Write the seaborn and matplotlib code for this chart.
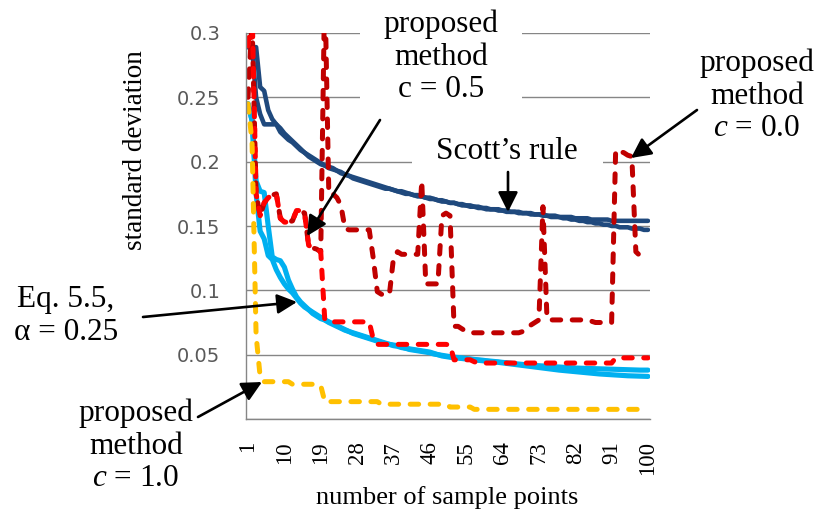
import matplotlib
matplotlib.use("Agg")
import matplotlib.pyplot as plt
from matplotlib.patches import Rectangle, FancyArrowPatch
import numpy as np
import pandas as pd
import seaborn as sns

# ---------------------------------------------------------------- data
n_points = list(range(1, 101))
x_tick_values = [1, 10, 19, 28, 37, 46, 55, 64, 73, 82, 91, 100]
y_tick_values = [0.0, 0.05, 0.10, 0.15, 0.20, 0.25, 0.30]
y_tick_labels = ["", "0.05", "0.1", "0.15", "0.2", "0.25", "0.3"]

scott_a = [
    0.289, 0.289, 0.289, 0.258, 0.255, 0.240, 0.233, 0.229, 0.226, 0.222,
    0.219, 0.216, 0.213, 0.210, 0.207, 0.205, 0.203, 0.201, 0.199, 0.197,
    0.196, 0.195, 0.193, 0.192, 0.190, 0.189, 0.188, 0.187, 0.186, 0.185,
    0.184, 0.183, 0.182, 0.181, 0.180, 0.179, 0.178, 0.177, 0.177, 0.176,
    0.175, 0.174, 0.174, 0.173, 0.172, 0.172, 0.171, 0.170, 0.170, 0.169,
    0.168, 0.168, 0.167, 0.167, 0.166, 0.166, 0.165, 0.165, 0.164, 0.164,
    0.163, 0.163, 0.163, 0.162, 0.162, 0.161, 0.161, 0.161, 0.160, 0.160,
    0.160, 0.159, 0.159, 0.159, 0.158, 0.158, 0.158, 0.157, 0.157, 0.157,
    0.157, 0.156, 0.156, 0.156, 0.156, 0.155, 0.155, 0.155, 0.155, 0.155,
    0.154, 0.154, 0.154, 0.154, 0.154, 0.154, 0.154, 0.154, 0.154, 0.154,
]
scott_b = [
    0.289, 0.289, 0.250, 0.237, 0.229, 0.229, 0.229, 0.229, 0.223, 0.220,
    0.217, 0.215, 0.212, 0.209, 0.207, 0.204, 0.202, 0.200, 0.198, 0.197,
    0.195, 0.194, 0.193, 0.191, 0.190, 0.189, 0.187, 0.186, 0.185, 0.184,
    0.183, 0.182, 0.181, 0.180, 0.179, 0.179, 0.178, 0.177, 0.176, 0.175,
    0.175, 0.174, 0.173, 0.173, 0.172, 0.171, 0.171, 0.170, 0.169, 0.169,
    0.168, 0.168, 0.167, 0.166, 0.166, 0.165, 0.165, 0.164, 0.164, 0.163,
    0.163, 0.163, 0.162, 0.162, 0.161, 0.161, 0.161, 0.160, 0.160, 0.160,
    0.159, 0.159, 0.159, 0.158, 0.158, 0.157, 0.157, 0.157, 0.156, 0.156,
    0.155, 0.155, 0.154, 0.154, 0.153, 0.153, 0.152, 0.152, 0.151, 0.151,
    0.150, 0.150, 0.149, 0.149, 0.149, 0.148, 0.148, 0.148, 0.147, 0.147,
]
eq55_a = [
    0.245, 0.232, 0.185, 0.177, 0.176, 0.150, 0.126, 0.124, 0.123, 0.118,
    0.108, 0.101, 0.095, 0.091, 0.088, 0.085, 0.083, 0.081, 0.079, 0.077,
    0.0755, 0.074, 0.0725, 0.071, 0.0695, 0.068, 0.067, 0.066, 0.065, 0.064,
    0.063, 0.062, 0.061, 0.060, 0.059, 0.058, 0.0575, 0.057, 0.056, 0.055,
    0.0545, 0.054, 0.0535, 0.053, 0.0525, 0.052, 0.051, 0.050, 0.0495, 0.049,
    0.0485, 0.048, 0.0478, 0.0475, 0.047, 0.0467, 0.0463, 0.046, 0.0457, 0.0453,
    0.045, 0.0447, 0.0444, 0.044, 0.0437, 0.0434, 0.043, 0.0427, 0.0424, 0.042,
    0.0418, 0.0416, 0.0414, 0.0412, 0.041, 0.0408, 0.0406, 0.0404, 0.0402, 0.040,
    0.0398, 0.0396, 0.0395, 0.0394, 0.0393, 0.0392, 0.0391, 0.039, 0.0389, 0.0388,
    0.0387, 0.0386, 0.0385, 0.0384, 0.0383, 0.0382, 0.0381, 0.038, 0.038, 0.038,
]
eq55_b = [
    0.245, 0.232, 0.175, 0.146, 0.140, 0.127, 0.124, 0.116, 0.110, 0.105,
    0.101, 0.098, 0.094, 0.090, 0.087, 0.085, 0.082, 0.080, 0.078, 0.077,
    0.075, 0.0735, 0.072, 0.0705, 0.069, 0.068, 0.0665, 0.0655, 0.0645, 0.0635,
    0.0625, 0.0615, 0.0605, 0.0595, 0.0585, 0.058, 0.057, 0.0565, 0.0555, 0.055,
    0.054, 0.0535, 0.053, 0.0525, 0.052, 0.0515, 0.0505, 0.050, 0.049, 0.0485,
    0.048, 0.0477, 0.0473, 0.047, 0.0466, 0.0463, 0.046, 0.0456, 0.0453, 0.045,
    0.0446, 0.0443, 0.044, 0.0436, 0.0432, 0.0428, 0.0424, 0.042, 0.0416, 0.0412,
    0.0408, 0.0404, 0.040, 0.0396, 0.0392, 0.0388, 0.0384, 0.038, 0.0377, 0.0374,
    0.0371, 0.0368, 0.0365, 0.0362, 0.0359, 0.0356, 0.0353, 0.035, 0.0348, 0.0346,
    0.0344, 0.0342, 0.034, 0.0338, 0.0336, 0.0335, 0.0334, 0.0333, 0.0332, 0.0331,
]
proposed_c00 = [
    0.250, 0.310, 0.175, 0.158, 0.168, 0.172, 0.174, 0.175, 0.156, 0.153,
    0.153, 0.154, 0.162, 0.162, 0.160, 0.135, 0.133, 0.132, 0.130, 0.340,
    0.175, 0.175, 0.172, 0.166, 0.148, 0.147, 0.147, 0.147, 0.147, 0.147,
    0.147, 0.125, 0.099, 0.097, 0.096, 0.097, 0.125, 0.130, 0.128, 0.128,
    0.128, 0.128, 0.128, 0.185, 0.105, 0.105, 0.105, 0.105, 0.158, 0.160,
    0.158, 0.072, 0.072, 0.070, 0.068, 0.067, 0.067, 0.067, 0.067, 0.067,
    0.067, 0.067, 0.067, 0.067, 0.067, 0.067, 0.067, 0.067, 0.068, 0.070,
    0.073, 0.075, 0.077, 0.165, 0.078, 0.077, 0.077, 0.077, 0.077, 0.077,
    0.077, 0.077, 0.077, 0.077, 0.077, 0.076, 0.075, 0.075, 0.075, 0.075,
    0.075, 0.209, 0.208, 0.207, 0.205, 0.204, 0.130, 0.127, 0.127, 0.128,
]
proposed_c05 = [
    0.290, 0.320, 0.175, 0.158, 0.168, 0.172, 0.174, 0.175, 0.156, 0.153,
    0.153, 0.154, 0.162, 0.162, 0.160, 0.135, 0.133, 0.132, 0.130, 0.077,
    0.0755, 0.0755, 0.0755, 0.0755, 0.0755, 0.0755, 0.0755, 0.0755, 0.0755, 0.0755,
    0.0755, 0.062, 0.058, 0.058, 0.058, 0.058, 0.058, 0.058, 0.058, 0.058,
    0.058, 0.058, 0.058, 0.058, 0.058, 0.058, 0.058, 0.058, 0.058, 0.058,
    0.0575, 0.046, 0.046, 0.046, 0.046, 0.046, 0.0445, 0.0435, 0.0435, 0.0435,
    0.0435, 0.0435, 0.0435, 0.0435, 0.0435, 0.0435, 0.0435, 0.0435, 0.0435, 0.0435,
    0.0435, 0.0435, 0.0435, 0.0435, 0.0435, 0.0435, 0.0435, 0.0435, 0.0435, 0.0435,
    0.0435, 0.0435, 0.0435, 0.0435, 0.0435, 0.0435, 0.0435, 0.0435, 0.0435, 0.0435,
    0.0435, 0.0475, 0.0475, 0.0475, 0.0475, 0.0475, 0.0475, 0.0475, 0.0475, 0.0475,
]
proposed_c10 = [
    0.245, 0.215, 0.065, 0.033, 0.029, 0.029, 0.029, 0.029, 0.029, 0.029,
    0.029, 0.027, 0.027, 0.027, 0.027, 0.027, 0.027, 0.027, 0.026, 0.0135,
    0.0135, 0.0135, 0.0135, 0.0135, 0.0135, 0.0135, 0.0135, 0.0135, 0.0135, 0.0135,
    0.0135, 0.0135, 0.0135, 0.0115, 0.0115, 0.0115, 0.0115, 0.0115, 0.0115, 0.0115,
    0.0115, 0.0115, 0.0115, 0.0115, 0.0115, 0.0115, 0.0115, 0.0115, 0.0115, 0.0115,
    0.0093, 0.0093, 0.0093, 0.0093, 0.0093, 0.0093, 0.0075, 0.0075, 0.0075, 0.0075,
    0.0075, 0.0075, 0.0075, 0.0075, 0.0075, 0.0075, 0.0075, 0.0075, 0.0075, 0.0075,
    0.0075, 0.0075, 0.0075, 0.0075, 0.0075, 0.0075, 0.0075, 0.0075, 0.0075, 0.0075,
    0.0075, 0.0075, 0.0075, 0.0075, 0.0075, 0.0075, 0.0075, 0.0075, 0.0075, 0.0075,
    0.0075, 0.0075, 0.0075, 0.0075, 0.0075, 0.0075, 0.0075, 0.0075, 0.0075, 0.0075,
]

series = {
    "Scott's rule A": scott_a,
    "Scott's rule B": scott_b,
    "Eq. 5.5 A": eq55_a,
    "Eq. 5.5 B": eq55_b,
    "proposed c=0.0": proposed_c00,
    "proposed c=0.5": proposed_c05,
    "proposed c=1.0": proposed_c10,
}
order = list(series.keys())
palette = {
    "Scott's rule A": "#1F497D",
    "Scott's rule B": "#1F497D",
    "Eq. 5.5 A": "#00B0F0",
    "Eq. 5.5 B": "#00B0F0",
    "proposed c=0.0": "#C00000",
    "proposed c=0.5": "#FF0000",
    "proposed c=1.0": "#FFC000",
}
dash = (1.7, 2.3)
dashes = {
    "Scott's rule A": "",
    "Scott's rule B": "",
    "Eq. 5.5 A": "",
    "Eq. 5.5 B": "",
    "proposed c=0.0": dash,
    "proposed c=0.5": dash,
    "proposed c=1.0": dash,
}
widths = {
    "Scott's rule A": 3.3,
    "Scott's rule B": 3.3,
    "Eq. 5.5 A": 3.7,
    "Eq. 5.5 B": 3.7,
    "proposed c=0.0": 3.6,
    "proposed c=0.5": 3.6,
    "proposed c=1.0": 3.6,
}

df = pd.concat(
    [pd.DataFrame({"n": n_points, "sd": vals, "series": name})
     for name, vals in series.items()],
    ignore_index=True,
)

# ---------------------------------------------------------------- figure
sns.set_theme(style="white")
plt.rcParams["font.family"] = ["DejaVu Sans"]
plt.rcParams["mathtext.fontset"] = "custom"
plt.rcParams["mathtext.it"] = "Liberation Serif:italic"
plt.rcParams["mathtext.rm"] = "Liberation Serif"

W, H = 819, 516


def fxy(px, py):
    """Pixel position measured from the top-left corner -> figure fraction."""
    return px / W, 1 - py / H


fig = plt.figure(figsize=(W / 100, H / 100), dpi=100)
ax = fig.add_axes([246 / W, 1 - 419 / H, (650 - 246) / W, (419 - 33) / H])

sns.lineplot(
    data=df, x="n", y="sd", hue="series", style="series",
    hue_order=order, style_order=order, palette=palette, dashes=dashes,
    estimator=None, sort=False, legend=False, ax=ax, linewidth=3.0,
)
for line, name in zip(ax.lines, order):
    line.set_linewidth(widths[name])
    line.set_dash_capstyle("round")
    line.set_solid_joinstyle("round")

grey = "#868686"
ax.set_xlim(0.5, 100.5)
ax.set_ylim(0, 0.3)

ax.set_xticks(x_tick_values)
ax.set_xticklabels([str(v) for v in x_tick_values], rotation=90,
                   fontfamily="Liberation Serif", fontsize=16.5)
ax.set_xticks(np.arange(0.5, 101, 1), minor=True)
ax.tick_params(axis="x", which="major", length=0, pad=16, labelcolor="black")
ax.tick_params(axis="x", which="minor", length=5, width=0.8, color=grey)

ax.set_yticks(y_tick_values, y_tick_labels)
ax.tick_params(axis="y", length=6.5, width=1.0, color=grey,
               labelsize=14, labelcolor="#595959", pad=12)

ax.grid(axis="y", color=grey, linewidth=1.0)
ax.grid(axis="x", visible=False)
ax.set_axisbelow(True)
for side in ["top", "right"]:
    ax.spines[side].set_visible(False)
for side in ["left", "bottom"]:
    ax.spines[side].set_color(grey)
    ax.spines[side].set_linewidth(1.0)

ax.set_xlabel("number of sample points", fontfamily="Liberation Serif",
              fontsize=19, color="black")
ax.xaxis.label.set_va("center")
ax.xaxis.set_label_coords((447 - 246) / 404, (419 - 498) / 386)
ax.set_ylabel("standard deviation", fontfamily="Liberation Serif",
              fontsize=19.5, color="black")
ax.yaxis.label.set_va("center")
ax.yaxis.set_label_coords((135 - 246) / 404, (419 - 150) / 386)

# white backgrounds behind the text boxes that sit over the plot
for x0, y0, x1, y1 in [(360, 0, 522, 118), (412, 128, 603, 176)]:
    fig.add_artist(Rectangle(fxy(x0, y1), (x1 - x0) / W, (y1 - y0) / H,
                             transform=fig.transFigure, facecolor="white",
                             edgecolor="none", zorder=3))

note_style = dict(ha="center", va="center", fontfamily="Liberation Serif",
                  fontsize=22.5, linespacing=1.16, color="black", zorder=4)
fig.text(*fxy(441, 57), "proposed\nmethod\nc = 0.5", **note_style)
fig.text(*fxy(507, 151), "Scott\u2019s rule", **note_style)
fig.text(*fxy(757, 96), "proposed\nmethod\n$c$ = 0.0", **note_style)
fig.text(*fxy(66, 316), "Eq. 5.5,\n\u03b1 = 0.25", **note_style)
fig.text(*fxy(136, 446), "proposed\nmethod\n$c$ = 1.0", **note_style)

arrows = [
    ((380, 120), (307, 236)),
    ((508, 172), (508, 212)),
    ((697, 110), (631, 158)),
    ((143, 317), (297, 302)),
    ((198, 417), (262, 382)),
]
for tail, tip in arrows:
    fig.add_artist(FancyArrowPatch(
        fxy(*tail), fxy(*tip), transform=fig.transFigure,
        arrowstyle="-|>", mutation_scale=30, linewidth=1.9,
        color="black", shrinkA=0, shrinkB=0, zorder=5))

fig.savefig("out.png", dpi=100)
